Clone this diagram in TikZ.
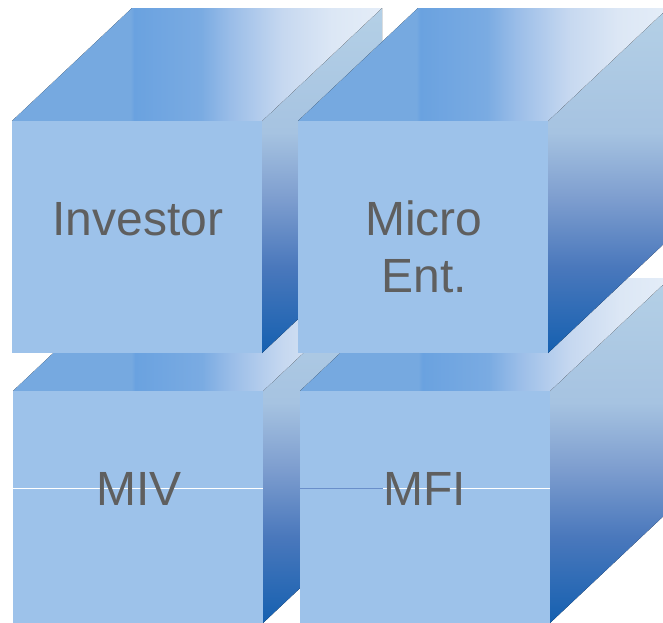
\documentclass[tikz,border=0pt]{standalone}
\usepackage{fontspec}
\setmainfont{Liberation Sans}
\definecolor{frontc}{HTML}{9DC2EA}
\definecolor{textc}{HTML}{5F5F5F}
\definecolor{tA}{HTML}{76A9E0}
\definecolor{tB}{HTML}{6AA2E0}
\definecolor{tC}{HTML}{7AABE2}
\definecolor{tD}{HTML}{9ABDE8}
\definecolor{tE}{HTML}{C6D8F0}
\definecolor{tF}{HTML}{DCE7F5}
\definecolor{tG}{HTML}{E4EDF8}
\definecolor{sA}{HTML}{B4D0E6}
\definecolor{sB}{HTML}{A6C3E1}
\definecolor{sC}{HTML}{7E9ECF}
\definecolor{sD}{HTML}{4A78BC}
\definecolor{sE}{HTML}{1560B0}
\definecolor{linec}{HTML}{6A8FCA}
\pgfdeclarehorizontalshading{topshade}{100bp}{color(0bp)=(tA); color(25bp)=(tA); color(41bp)=(tA); color(41.5bp)=(tB); color(50.5bp)=(tC); color(54.5bp)=(tD); color(61.5bp)=(tE); color(68.25bp)=(tF); color(75bp)=(tG); color(100bp)=(tG)}
\pgfdeclareverticalshading{sideshade}{100bp}{color(0bp)=(sE); color(25bp)=(sE); color(37.5bp)=(sD); color(47.5bp)=(sC); color(57bp)=(sB); color(75bp)=(sA); color(100bp)=(sA)}
\newcommand\mycube[2]{%
  \fill[shading=sideshade] (#1+250,#2) -- ++(120,-113) -- ++(0,232) -- ++(-120,113) -- cycle;
  \fill[shading=topshade] (#1,#2) -- ++(120,-113) -- ++(250,0) -- ++(-120,113) -- cycle;
  \fill[frontc] (#1,#2) rectangle ++(250,232);
}
\tikzset{lbl/.style={text=textc, font=\fontsize{48}{57}\selectfont, inner sep=0pt, anchor=base}}
\begin{document}
\begin{tikzpicture}[x=1pt,y=-1pt]
\useasboundingbox (0,0) rectangle (663,622);
\clip (0,0) rectangle (663,622);
\mycube{13}{391}
\mycube{300}{391}
\mycube{12}{121}
\mycube{298}{121}
\coordinate (mivL) at (13,488);
\coordinate (mivR) at (263,488);
\coordinate (mfiL) at (300,488);
\coordinate (mfiM) at (383,488);
\coordinate (mfiR) at (550,488);
\draw[white, line width=1pt] (mivL) -- (mivR);
\draw[linec, line width=1pt] (mfiL) -- (mfiM);
\draw[white, line width=1pt] (mfiM) -- (mfiR);
\node[lbl] (inv) at (138,235) {Investor};
\node[lbl] (me1) at (424,235) {Micro};
\node[lbl] (me2) at (424,292) {Ent.};
\node[lbl] (miv) at (139,505) {MIV};
\node[lbl] (mfi) at (425,505) {MFI};
\end{tikzpicture}
\end{document}
